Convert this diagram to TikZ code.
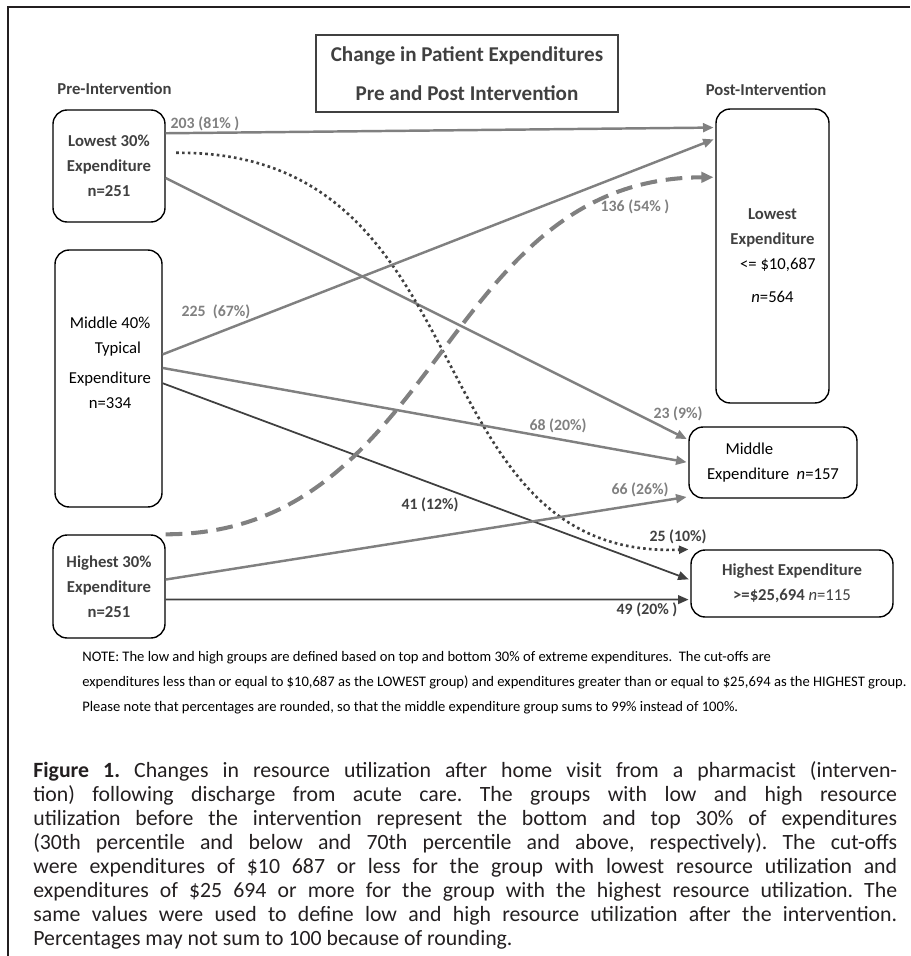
\documentclass[tikz,border=0pt]{standalone}
\usepackage{fontspec}
\setmainfont{Carlito}
\usetikzlibrary{arrows.meta}
\definecolor{flowgray}{RGB}{128,128,128}
\definecolor{textgray}{RGB}{64,64,64}
\definecolor{capblack}{RGB}{35,31,32}
\begin{document}
\begin{tikzpicture}[x=0.02cm,y=-0.02cm,
	box/.style={draw,line width=0.8pt,rounded corners=8pt,align=center,inner sep=2pt},
	boxbold/.style={box,text=textgray,font=\fontsize{9.5}{14.2}\selectfont\bfseries},
	boxplain/.style={box,font=\fontsize{9.5}{14.2}\selectfont},
	head/.style={text=textgray,font=\fontsize{9.5}{11}\selectfont\bfseries},
	lbl/.style={text=flowgray,font=\fontsize{9}{11}\selectfont\bfseries,inner sep=0pt},
	flow/.style={draw=flowgray,line width=1.4pt,-{Triangle[length=6pt,width=5pt]},shorten >=1pt},
	darkflow/.style={flow,draw=textgray,line width=1pt},
	dotflow/.style={draw=textgray,line width=1.5pt,dash pattern=on 1.5pt off 1.8pt,-{Triangle[length=5.5pt,width=4.5pt]},shorten <=6pt,shorten >=1pt},
	dashflow/.style={draw=flowgray,line width=2.3pt,dash pattern=on 9.5pt off 5pt,-{Triangle[length=7pt,width=6pt]},shorten >=1pt}]
	\useasboundingbox (0,0) rectangle (910,956);
	\draw [line width=1.5pt,capblack] (8,956) -- (8,7) -- (910,7);
	% title and column heads
	\node [draw=textgray,line width=0.9pt,minimum width=6.04cm,minimum height=1.54cm,align=center,text=textgray,font=\fontsize{12}{14.5}\selectfont\bfseries] (title) at (467,73.5) {Change in Patient Expenditures\\[7.5pt]Pre and Post Intervention};
	\node [head] (pre) at (114.5,89) {Pre-Intervention};
	\node [head] (post) at (766,90) {Post-Intervention};
	% pre-intervention groups
	\node [boxbold,minimum width=2.24cm,minimum height=2.24cm] (lo) at (109,166) {Lowest 30\%\\Expenditure\\n=251};
	\node [box,minimum width=2.14cm,minimum height=5.14cm] (mid) at (108.5,378.5) {};
	\node [align=center,font=\fontsize{9.5}{14.2}\selectfont] (midtext) at (110,362.5) {Middle 40\%\\\hspace*{9pt}Typical\\[3pt]Expenditure\\n=334};
	\node [boxbold,minimum width=2.24cm,minimum height=2.06cm] (hi) at (109,586.5) {Highest 30\%\\Expenditure\\n=251};
	% post-intervention groups
	\node [boxplain,minimum width=2.26cm,minimum height=5.88cm] (plo) at (772.5,256) {\textcolor{textgray}{\textbf{Lowest}}\\\textcolor{textgray}{\textbf{Expenditure}}\\\hspace*{6pt}<= \$10,687\\[4.5pt]\textit{n}=564};
	\node [boxplain,align=left,minimum width=3.36cm,minimum height=1.42cm] (pmid) at (773,462.5) {\hspace*{10.5pt}Middle\\Expenditure\hspace{0.45em}\textit{n}=157};
	\node [boxbold,minimum width=4.04cm,minimum height=1.34cm] (phi) at (792,583.5) {Highest Expenditure\\>=\$25,694 \textit{\mdseries n}\mdseries=115};
	% flows
	\draw [flow] (lo.30) -- (plo.114);
	\draw [flow] (lo.-12) -- (pmid.165);
	\draw [dotflow] (lo.13) .. controls (490,150) and (410,560) .. (phi.north west);
	\draw [flow] (mid.24) -- (plo.116);
	\draw [flow] (mid.11) -- (pmid.west);
	\draw [darkflow] (mid.-5) -- (phi.178);
	\draw [dashflow] (hi.north east) .. controls (440,534) and (440,178) .. (plo.126);
	\draw [flow] (hi.7) -- (pmid.202);
	\draw [darkflow] (hi.-13) -- (phi.189);
	% flow labels
	\node [lbl] (l203) at (205,124) {203 (81\% )};
	\node [lbl] (l23) at (678,414) {23 (9\%)};
	\node [lbl,text=textgray] (l25) at (678,537) {25 (10\%)};
	\node [lbl] (l225) at (216,312) {225\ \ (67\%)};
	\node [lbl] (l68) at (558,426) {68 (20\%)};
	\node [lbl,text=textgray] (l41) at (430,505) {41 (12\%)};
	\node [lbl] (l136) at (635,207) {136 (54\% )};
	\node [lbl] (l66) at (640,490) {66 (26\%)};
	\node [lbl,text=textgray] (l49) at (647,610) {49 (20\% )};
	% note and caption
	\node [anchor=north west,align=left,inner sep=0pt,font=\fontsize{8.3}{14.2}\selectfont] (note) at (82,651) {NOTE: The low and high groups are defined based on top and bottom 30\% of extreme expenditures.\ \ The cut-offs are\\expenditures less than or equal to \$10,687 as the LOWEST group) and expenditures greater than or equal to \$25,694 as the HIGHEST group.\\Please note that percentages are rounded, so that the middle expenditure group sums to 99\% instead of 100\%.};
	\node [anchor=north west,inner sep=0pt,text width=17.28cm,align=justify,text=capblack,font=\fontsize{12.4}{13.7}\selectfont\frenchspacing] (caption) at (33,761) {\textbf{Figure 1.} Changes in resource utilization after home visit from a pharmacist (interven-\linebreak tion) following discharge from acute care. The groups with low and high resource\linebreak utilization before the intervention represent the bottom and top 30\% of expenditures\linebreak (30th percentile and below and 70th percentile and above, respectively). The cut-offs\linebreak were expenditures of \$10 687 or less for the group with lowest resource utilization and\linebreak expenditures of \$25 694 or more for the group with the highest resource utilization. The\linebreak same values were used to define low and high resource utilization after the intervention.\linebreak Percentages may not sum to 100 because of rounding.};
\end{tikzpicture}
\end{document}
